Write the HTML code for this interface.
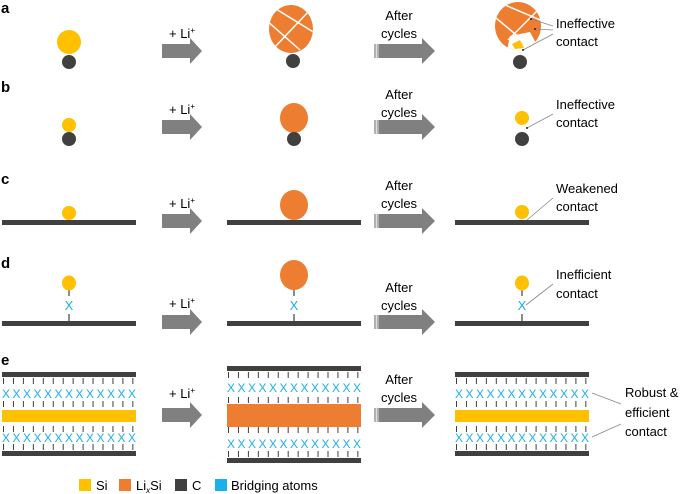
<!DOCTYPE html>
<html><head><meta charset="utf-8"><style>
html,body{margin:0;padding:0;background:#fff;}
svg{display:block;font-family:"Liberation Sans",sans-serif;}
</style></head><body>
<svg width="685" height="494" viewBox="0 0 685 494" xmlns="http://www.w3.org/2000/svg">
<defs>
<g id="arr1"><polygon points="0,-7 28,-7 28,-13 40,0 28,13 28,7 0,7" fill="#808080"/></g>
<g id="arr2"><polygon points="0,-7 48,-7 48,-13 61,0 48,13 48,7 0,7" fill="#808080"/><rect x="0" y="-7" width="5" height="14" fill="#b0b0b0"/><rect x="2" y="-7" width="1" height="14" fill="#e0e0e0"/></g>
<clipPath id="cm"><ellipse cx="291" cy="29" rx="22" ry="24"/></clipPath>
<clipPath id="cr"><ellipse cx="518" cy="26" rx="23" ry="24"/></clipPath>
</defs>
<g font-weight="bold" font-size="15" fill="#000">
<text x="1" y="13">a</text><text x="1" y="92">b</text><text x="1" y="184">c</text><text x="1" y="268">d</text><text x="1" y="365">e</text>
</g>
<g font-size="13" fill="#000">
<!-- row a -->
<text x="169" y="38">+ Li<tspan font-size="8" dy="-5">+</tspan></text>
<text x="399" y="20" text-anchor="middle">After</text><text x="399" y="38" text-anchor="middle">cycles</text>
<text x="556" y="28">Ineffective</text><text x="556" y="46">contact</text>
<!-- row b -->
<text x="169" y="114">+ Li<tspan font-size="8" dy="-5">+</tspan></text>
<text x="399" y="99" text-anchor="middle">After</text><text x="399" y="117" text-anchor="middle">cycles</text>
<text x="556" y="109">Ineffective</text><text x="556" y="127">contact</text>
<!-- row c -->
<text x="169" y="208">+ Li<tspan font-size="8" dy="-5">+</tspan></text>
<text x="399" y="190" text-anchor="middle">After</text><text x="399" y="208" text-anchor="middle">cycles</text>
<text x="556" y="193">Weakened</text><text x="556" y="211">contact</text>
<!-- row d -->
<text x="169" y="308">+ Li<tspan font-size="8" dy="-5">+</tspan></text>
<text x="399" y="292" text-anchor="middle">After</text><text x="399" y="310" text-anchor="middle">cycles</text>
<text x="556" y="279">Inefficient</text><text x="556" y="298">contact</text>
<!-- row e -->
<text x="169" y="398">+ Li<tspan font-size="8" dy="-5">+</tspan></text>
<text x="399" y="384" text-anchor="middle">After</text><text x="399" y="402" text-anchor="middle">cycles</text>
<text x="625" y="397">Robust &amp;</text><text x="625" y="417">efficient</text><text x="625" y="436">contact</text>
<!-- legend -->
<text x="96" y="490">Si</text><text x="136" y="490">Li<tspan font-size="8" dy="3" font-style="italic">x</tspan><tspan dy="-3">Si</tspan></text>
<text x="192" y="490">C</text><text x="231" y="490">Bridging atoms</text>
</g>
<!-- arrows -->
<use href="#arr1" x="162" y="51"/><use href="#arr2" x="374" y="51"/>
<use href="#arr1" x="162" y="127"/><use href="#arr2" x="374" y="127"/>
<use href="#arr1" x="162" y="221"/><use href="#arr2" x="374" y="221"/>
<use href="#arr1" x="162" y="322"/><use href="#arr2" x="374" y="322"/>
<use href="#arr1" x="162" y="415"/><use href="#arr2" x="374" y="415"/>
<!-- row a shapes -->
<circle cx="69" cy="42" r="12" fill="#FFC000"/><circle cx="69" cy="62" r="7" fill="#404040"/>
<ellipse cx="291" cy="29" rx="22" ry="24" fill="#ED7D31"/>
<g clip-path="url(#cm)" stroke="#fff" stroke-width="1.5"><line x1="276" y1="9" x2="315" y2="33"/><line x1="266" y1="20" x2="300" y2="50"/><line x1="272" y1="50" x2="310" y2="10"/></g>
<circle cx="293" cy="61" r="7" fill="#404040"/>
<ellipse cx="518" cy="26" rx="23" ry="24" fill="#ED7D31"/>
<g clip-path="url(#cr)"><polygon points="510,36 530,32 545,60 505,60" fill="#fff"/><g stroke="#fff" stroke-width="1.5"><line x1="505" y1="5" x2="545" y2="22"/><line x1="496" y1="18" x2="520" y2="38"/><line x1="508" y1="40" x2="540" y2="8"/></g></g>
<polygon points="512,44 520,40 524,48 515,49" fill="#FFC000"/>
<circle cx="520" cy="62" r="7" fill="#404040"/>
<g stroke="#888" stroke-width="0.8"><line x1="553" y1="26" x2="531" y2="19"/><line x1="553" y1="30" x2="535" y2="29"/><line x1="553" y1="34" x2="523" y2="50"/></g>
<g fill="#222"><circle cx="531" cy="19" r="1"/><circle cx="535" cy="29" r="1"/><circle cx="523" cy="50" r="1"/></g>
<!-- row b -->
<circle cx="69" cy="125" r="7" fill="#FFC000"/><circle cx="69" cy="139" r="7" fill="#404040"/>
<ellipse cx="294" cy="118" rx="14" ry="15" fill="#ED7D31"/><circle cx="294" cy="139" r="7" fill="#404040"/>
<circle cx="522" cy="118" r="7" fill="#FFC000"/><circle cx="522" cy="139" r="7" fill="#404040"/>
<line x1="553" y1="114" x2="527" y2="128" stroke="#888" stroke-width="0.8"/><circle cx="527" cy="128" r="1" fill="#222"/>
<!-- row c -->
<rect x="2" y="220" width="134" height="5" fill="#404040"/><rect x="227" y="220" width="134" height="5" fill="#404040"/><rect x="455" y="220" width="134" height="5" fill="#404040"/>
<ellipse cx="69" cy="213" rx="7" ry="7" fill="#FFC000"/>
<ellipse cx="294" cy="205" rx="14" ry="15" fill="#ED7D31"/>
<ellipse cx="522" cy="212" rx="7" ry="7" fill="#FFC000"/>
<line x1="553" y1="198" x2="527" y2="220" stroke="#888" stroke-width="0.8"/>
<!-- row d -->
<rect x="2" y="321" width="134" height="5" fill="#404040"/><rect x="227" y="321" width="134" height="5" fill="#404040"/><rect x="455" y="321" width="134" height="5" fill="#404040"/>
<g stroke="#404040" stroke-width="1.2"><line x1="69" y1="289" x2="69" y2="296"/><line x1="69" y1="314" x2="69" y2="321"/><line x1="294" y1="289" x2="294" y2="296"/><line x1="294" y1="314" x2="294" y2="321"/><line x1="522" y1="289" x2="522" y2="296"/><line x1="522" y1="314" x2="522" y2="321"/></g>
<ellipse cx="69" cy="283" rx="7" ry="7.5" fill="#FFC000"/>
<ellipse cx="294" cy="275" rx="14" ry="15" fill="#ED7D31"/>
<ellipse cx="522" cy="283" rx="7" ry="7.5" fill="#FFC000"/>
<g font-size="13" fill="#1AB0E8" text-anchor="middle"><text x="69" y="310">X</text><text x="294" y="310">X</text><text x="522" y="310">X</text></g>
<line x1="553" y1="284" x2="526" y2="305" stroke="#888" stroke-width="0.8"/>
<!-- row e left -->
<g id="blk">
<rect x="2" y="372" width="134" height="5" fill="#404040"/>
<rect x="2" y="451" width="134" height="5" fill="#404040"/>
<g stroke="#404040" stroke-width="6" stroke-dasharray="1 8.95">
<line x1="3" y1="381" x2="136" y2="381"/><line x1="3" y1="404" x2="136" y2="404"/><line x1="3" y1="429" x2="136" y2="429"/><line x1="3" y1="447" x2="136" y2="447"/></g>
</g>
<rect x="2" y="410" width="134" height="12" fill="#FFC000"/>
<g font-size="12" fill="#1AB0E8"><text x="2" y="398" textLength="134" lengthAdjust="spacing">XXXXXXXXXXXXX</text><text x="2" y="442" textLength="134" lengthAdjust="spacing">XXXXXXXXXXXXX</text></g>
<!-- row e middle -->
<rect x="227" y="366" width="134" height="5" fill="#404040"/>
<rect x="227" y="458" width="134" height="5" fill="#404040"/>
<g stroke="#404040" stroke-width="6" stroke-dasharray="1 8.95">
<line x1="228" y1="375" x2="361" y2="375"/><line x1="228" y1="400" x2="361" y2="400"/><line x1="228" y1="430" x2="361" y2="430"/><line x1="228" y1="454" x2="361" y2="454"/></g>
<rect x="227" y="404" width="134" height="23" fill="#ED7D31"/>
<g font-size="12" fill="#1AB0E8"><text x="227" y="392" textLength="134" lengthAdjust="spacing">XXXXXXXXXXXXX</text><text x="227" y="448" textLength="134" lengthAdjust="spacing">XXXXXXXXXXXXX</text></g>
<!-- row e right -->
<use href="#blk" x="453" y="0"/>
<rect x="455" y="410" width="134" height="12" fill="#FFC000"/>
<g font-size="12" fill="#1AB0E8"><text x="455" y="398" textLength="134" lengthAdjust="spacing">XXXXXXXXXXXXX</text><text x="455" y="442" textLength="134" lengthAdjust="spacing">XXXXXXXXXXXXX</text></g>
<g stroke="#888" stroke-width="0.8"><line x1="621" y1="404" x2="592" y2="393"/><line x1="621" y1="424" x2="592" y2="437"/></g>
<!-- legend -->
<rect x="79" y="479" width="12" height="12" fill="#FFC000"/>
<rect x="119" y="479" width="12" height="12" fill="#ED7D31"/>
<rect x="175" y="479" width="12" height="12" fill="#404040"/>
<rect x="215" y="479" width="12" height="12" fill="#1AB0E8"/>
</svg>
</body></html>
